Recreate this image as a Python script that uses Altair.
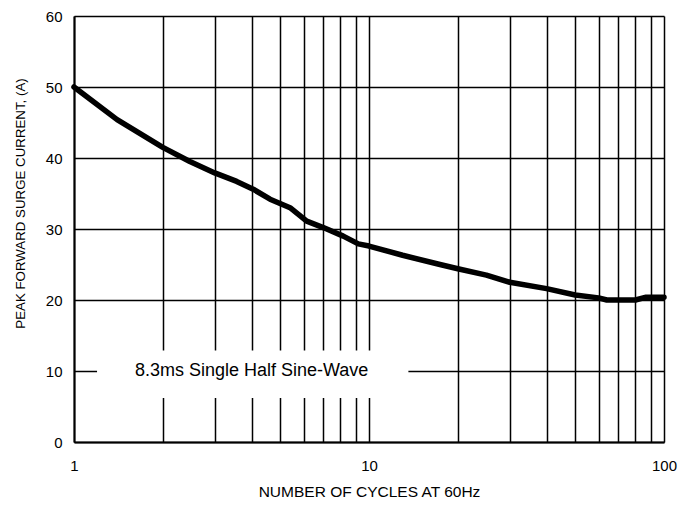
import altair as alt
import pandas as pd

cycles = [1, 1.4, 2.0, 2.47, 3.0, 3.56, 4.05, 4.62, 5.4, 6.15, 7.0, 8.18, 9.2, 10, 13, 17.4, 20, 25, 30, 40, 50, 60, 64, 70, 80, 87, 100]
current = [50.0, 45.4, 41.5, 39.5, 37.9, 36.7, 35.6, 34.2, 33.0, 31.1, 30.2, 29.0, 27.9, 27.6, 26.3, 25.0, 24.4, 23.5, 22.5, 21.6, 20.7, 20.3, 20.0, 20.0, 20.0, 20.4, 20.4]

x_grid = [1, 2, 3, 4, 5, 6, 7, 8, 9, 10, 20, 30, 40, 50, 60, 70, 80, 90, 100]
y_ticks = [0, 10, 20, 30, 40, 50, 60]

note_text = ["8.3ms Single Half Sine-Wave"]
note_x = [4.0]
note_y = [10]
box_x = [1.197]
box_x2 = [13.6]
box_y = [6.2]
box_y2 = [12.9]

curve = pd.DataFrame({"x": cycles, "y": current})
note = pd.DataFrame({"t": note_text, "x": note_x, "y": note_y})
box = pd.DataFrame({"x": box_x, "x2": box_x2, "y": box_y, "y2": box_y2})

xscale = alt.Scale(type="log", domain=[1, 100], nice=False)
yscale = alt.Scale(domain=[0, 60], nice=False)

xaxis = alt.Axis(
    values=x_grid,
    labelExpr="(datum.value == 1 || datum.value == 10 || datum.value == 100) ? format(datum.value, 'd') : ''",
    labelOverlap=False,
    labelFlush=False,
    ticks=False,
    grid=True,
    gridColor="black",
    gridWidth=1.5,
    gridOpacity=1,
    domainColor="black",
    domainWidth=2,
    labelFont="Liberation Sans",
    labelFontSize=15,
    labelColor="black",
    labelPadding=16,
    title="NUMBER OF CYCLES AT 60Hz",
    titleFont="Liberation Sans",
    titleFontSize=15.5,
    titleFontWeight="normal",
    titleColor="black",
    titlePadding=11,
)
yaxis = alt.Axis(
    values=y_ticks,
    ticks=False,
    labelFlush=False,
    grid=True,
    gridColor="black",
    gridWidth=1.5,
    gridOpacity=1,
    domainColor="black",
    domainWidth=2,
    labelFont="Liberation Sans",
    labelFontSize=15,
    labelColor="black",
    labelPadding=12,
    title="PEAK FORWARD SURGE CURRENT, (A)",
    titleFont="Liberation Sans",
    titleFontSize=13.3,
    titleFontWeight="normal",
    titleColor="black",
    titlePadding=18,
    titleY=187,
)

line = alt.Chart(curve).mark_line(color="black", strokeWidth=5.5, strokeCap="round", strokeJoin="round").encode(
    x=alt.X("x:Q", scale=xscale, axis=xaxis),
    y=alt.Y("y:Q", scale=yscale, axis=yaxis),
)

rect = alt.Chart(box).mark_rect(color="white", opacity=1).encode(
    x=alt.X("x:Q", scale=xscale),
    x2="x2:Q",
    y=alt.Y("y:Q", scale=yscale),
    y2="y2:Q",
)

text = alt.Chart(note).mark_text(font="Liberation Sans", fontSize=18, color="black", align="center", baseline="middle").encode(
    x=alt.X("x:Q", scale=xscale),
    y=alt.Y("y:Q", scale=yscale),
    text="t:N",
)

chart = alt.layer(line, rect, text).properties(
    width=590,
    height=426,
    autosize=alt.AutoSizeParams(type="none"),
    padding={"left": 66, "top": 8, "right": 22, "bottom": 62},
    background="white",
).configure_view(stroke=None)

chart.save("out.html", embed_options={"renderer": "svg", "actions": False})
